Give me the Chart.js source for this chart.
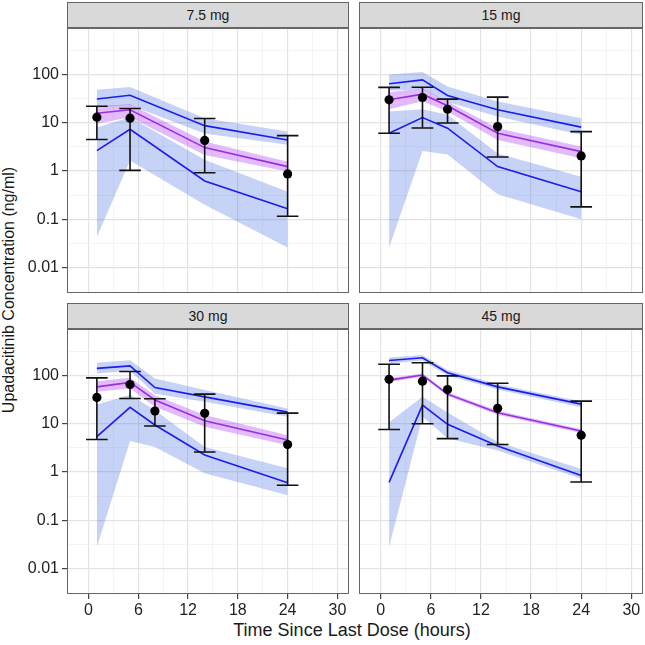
<!DOCTYPE html>
<html>
<head>
<meta charset="utf-8">
<script src="https://cdn.jsdelivr.net/npm/chart.js@4.4.1/dist/chart.umd.min.js"></script>
<style>
  html, body { margin: 0; padding: 0; background: #fff; }
  #page { position: relative; width: 645px; height: 645px; overflow: hidden;
          font-family: "Liberation Sans", Arial, Helvetica, sans-serif; }
  #page canvas { position: absolute; }
  .strip { position: absolute; box-sizing: border-box; background: #d9d9d9;
           border: 1px solid #666; color: #1a1a1a; font-size: 14px;
           text-align: center; line-height: 24px; }
  .axis-title { position: absolute; color: #1a1a1a; white-space: nowrap; text-align: center; }
</style>
</head>
<body>
<div id="page">
  <div class="axis-title" id="xTitle" style="left:152px; top:620px; width:400px; font-size:18px;">Time Since Last Dose (hours)</div>
  <div class="axis-title" id="yTitle" style="left:-191px; top:281px; width:400px; height:18px; line-height:18px; font-size:16px; transform:rotate(-90deg);">Upadacitinib Concentration (ng/ml)</div>
</div>
<script>
// facet labels
var doses = ['7.5 mg', '15 mg', '30 mg', '45 mg'];

// axis ticks
var xTicks = [0, 6, 12, 18, 24, 30];
var yTicks = [0.01, 0.1, 1, 10, 100];
var yTickLabels = ['0.01', '0.1', '1', '10', '100'];
var xLimits = [-2.6, 31.4];
var yLimits = [0.00296, 918];

// nominal times (hours) per dose
var obsTimes = [[1, 5, 14, 24], [1, 5, 8, 14, 24], [1, 5, 8, 14, 24], [1, 5, 8, 14, 24]];
var predTimes = [[1, 5, 14, 24], [1, 5, 8, 14, 24], [1, 5, 8, 14, 24], [1, 5, 8, 14, 24]];

// observed median with 5th / 95th percentiles
var obsMedian = [[13, 12.4, 4.3, 0.87], [29.8, 33.3, 19, 8.3, 2.05], [35, 65, 18.3, 16.4, 3.7], [83, 76, 51, 20.8, 5.8]];
var obsLow = [[4.5, 1.03, 0.92, 0.115], [6.05, 7.8, 9.9, 1.95, 0.18], [4.7, 33.4, 9, 2.6, 0.53], [7.6, 10, 4.9, 3.7, 0.62]];
var obsHigh = [[22, 19.7, 12.2, 5.4], [54, 54.5, 30.8, 33.9, 6.55], [89, 121, 32.9, 41, 16.6], [171, 183, 98, 69, 29.4]];

// predicted 95th percentile and its CI
var predUpper = [[31, 37, 8.7, 4.4], [64, 77, 36.6, 18.5, 8.1], [140, 158, 56, 36, 17.4], [204, 232, 114, 58, 25.5]];
var predUpperHi = [[48, 55, 12.4, 6.6], [100, 112, 56, 27.5, 12.4], [183, 207, 87, 50, 20.7], [235, 265, 130, 66, 29]];
var predUpperLo = [[21, 23, 6, 3.5], [46, 50, 27, 13.4, 5.6], [110, 125, 42, 28.5, 14], [178, 203, 100, 51, 22]];

// predicted median and its CI
var predMedian = [[15.7, 18.5, 3.05, 1.23], [29.8, 39, 22.4, 6.05, 2.52], [58, 72, 31, 11.5, 4.6], [80, 102, 41, 16.9, 7.05]];
var predMedianHi = [[22, 24, 4.1, 1.56], [43, 52, 27.5, 7.7, 3.2], [76, 89.5, 39, 15.1, 5.8], [88, 110, 45, 18.5, 7.7]];
var predMedianLo = [[9.5, 13, 2.15, 0.97], [19, 28, 17, 4.4, 1.83], [46, 54, 22.5, 8.7, 3.6], [73, 94, 37.5, 15.4, 6.4]];

// predicted 5th percentile and its CI
var predLower = [[2.64, 7.3, 0.62, 0.165], [6.05, 12.8, 7.7, 1.23, 0.37], [5.4, 21.8, 9.4, 2.25, 0.6], [0.61, 24.3, 9.7, 3.45, 0.85]];
var predLowerHi = [[8, 13, 1.7, 0.37], [17, 19, 14.6, 2.3, 0.76], [25, 40, 19, 3.3, 1.2], [10.7, 36, 17, 4.2, 1.15]];
var predLowerLo = [[0.043, 1.64, 0.2, 0.026], [0.026, 2.6, 2.2, 0.33, 0.1], [0.028, 4.4, 3.3, 0.94, 0.33], [0.028, 14, 5, 2.8, 0.72]];

var FONT = '"Liberation Sans", Arial, Helvetica, sans-serif';
var BLUE_FILL = 'rgba(65, 105, 225, 0.3)';
var PURPLE_FILL = 'rgba(160, 32, 240, 0.3)';
var BLUE_LINE = '#1c1cf0';
var PURPLE_LINE = '#9a2ee0';
var CAP_HALF = 1.3;

// panel placement: strip box and canvas box (left, top, width, height)
var layout = [
    { strip: [67, 2, 282, 26], canvas: [0, 28, 352, 268], left: true, bottom: false },
    { strip: [359, 2, 284, 26], canvas: [359, 28, 286, 268], left: false, bottom: false },
    { strip: [67, 303, 282, 26], canvas: [0, 329, 352, 295], left: true, bottom: true },
    { strip: [359, 303, 284, 26], canvas: [359, 329, 286, 295], left: false, bottom: true }
];

function isWhole(v) {
    return Math.abs(v - Math.round(v)) < 1e-6;
}

// scales add half-label padding at their ends; the panels are placed by hand, so drop it
function noPadding(scale) {
    scale.paddingTop = 0;
    scale.paddingBottom = 0;
    scale.paddingLeft = 0;
    scale.paddingRight = 0;
}

var framePlugin = {
    id: 'frame',
    afterDraw: function (chart) {
        var a = chart.chartArea, ctx = chart.ctx;
        ctx.save();
        ctx.strokeStyle = '#666';
        ctx.lineWidth = 1;
        ctx.strokeRect(a.left + 0.5, a.top + 0.5, a.right - a.left - 1, a.bottom - a.top - 1);
        ctx.restore();
    }
};

function xy(times, values) {
    return values.map(function (v, k) { return { x: times[k], y: v }; });
}

function lineSet(data, color, order) {
    return { data: data, borderColor: color, borderWidth: 1.6, pointRadius: 0, fill: false, order: order };
}

function buildDatasets(i) {
    var t = predTimes[i], to = obsTimes[i];
    var stems = [], caps = [];

    to.forEach(function (x, k) {
        stems.push({ x: x, y: obsLow[i][k] }, { x: x, y: obsHigh[i][k] }, { x: x, y: null });
        caps.push({ x: x - CAP_HALF, y: obsHigh[i][k] }, { x: x + CAP_HALF, y: obsHigh[i][k] }, { x: x, y: null });
        caps.push({ x: x - CAP_HALF, y: obsLow[i][k] }, { x: x + CAP_HALF, y: obsLow[i][k] }, { x: x, y: null });
    });

    return [
        { data: xy(t, predUpperHi[i]), borderWidth: 0, pointRadius: 0, fill: false, order: 9 },
        { data: xy(t, predUpperLo[i]), borderWidth: 0, pointRadius: 0, fill: '-1', backgroundColor: BLUE_FILL, order: 9 },
        { data: xy(t, predLowerHi[i]), borderWidth: 0, pointRadius: 0, fill: false, order: 8 },
        { data: xy(t, predLowerLo[i]), borderWidth: 0, pointRadius: 0, fill: '-1', backgroundColor: BLUE_FILL, order: 8 },
        { data: xy(t, predMedianHi[i]), borderWidth: 0, pointRadius: 0, fill: false, order: 7 },
        { data: xy(t, predMedianLo[i]), borderWidth: 0, pointRadius: 0, fill: '-1', backgroundColor: PURPLE_FILL, order: 7 },
        lineSet(xy(t, predUpper[i]), BLUE_LINE, 4),
        lineSet(xy(t, predLower[i]), BLUE_LINE, 4),
        lineSet(xy(t, predMedian[i]), PURPLE_LINE, 3),
        { data: stems, borderColor: '#111', borderWidth: 1.6, pointRadius: 0, spanGaps: false, fill: false, order: 2 },
        { data: caps, borderColor: '#111', borderWidth: 1.6, pointRadius: 0, spanGaps: false, fill: false, order: 2 },
        { data: xy(to, obsMedian[i]), showLine: false, pointRadius: 4.6, pointBackgroundColor: '#000',
          pointBorderWidth: 0, borderColor: '#000', order: 1 }
    ];
}

function makePanel(i) {
    var L = layout[i], page = document.getElementById('page');

    var strip = document.createElement('div');
    strip.className = 'strip';
    strip.style.left = L.strip[0] + 'px';
    strip.style.top = L.strip[1] + 'px';
    strip.style.width = L.strip[2] + 'px';
    strip.style.height = L.strip[3] + 'px';
    strip.textContent = doses[i];
    page.appendChild(strip);

    var canvas = document.createElement('canvas');
    canvas.width = L.canvas[2];
    canvas.height = L.canvas[3];
    canvas.style.left = L.canvas[0] + 'px';
    canvas.style.top = L.canvas[1] + 'px';
    canvas.style.width = L.canvas[2] + 'px';
    canvas.style.height = L.canvas[3] + 'px';
    page.appendChild(canvas);

    var xGrid = [];
    xTicks.forEach(function (v, k) {
        xGrid.push(v);
        if (k < xTicks.length - 1) {
            xGrid.push((v + xTicks[k + 1]) / 2);
        }
    });
    var yGrid = [];
    yTicks.forEach(function (v) {
        yGrid.push(v, v * Math.sqrt(10));
    });

    new Chart(canvas.getContext('2d'), {
        type: 'line',
        data: { datasets: buildDatasets(i) },
        options: {
            responsive: false,
            maintainAspectRatio: false,
            animation: false,
            events: [],
            layout: { autoPadding: false, padding: { left: 0, top: 0, right: L.left ? 3 : 2, bottom: 0 } },
            plugins: { legend: { display: false }, tooltip: { enabled: false } },
            scales: {
                x: {
                    type: 'linear',
                    min: xLimits[0],
                    max: xLimits[1],
                    afterBuildTicks: function (scale) {
                        scale.ticks = xGrid.map(function (v) { return { value: v }; });
                    },
                    afterFit: function (scale) {
                        scale.height = L.bottom ? 30 : 3;
                        noPadding(scale);
                    },
                    border: { display: false },
                    grid: {
                        drawTicks: L.bottom,
                        tickLength: 5,
                        color: function (ctx) { return xTicks.indexOf(ctx.tick.value) >= 0 ? '#e3e3e3' : '#efefef'; },
                        lineWidth: function (ctx) { return xTicks.indexOf(ctx.tick.value) >= 0 ? 1.2 : 0.7; },
                        tickColor: function (ctx) { return xTicks.indexOf(ctx.tick.value) >= 0 ? '#444' : 'rgba(0,0,0,0)'; },
                        tickWidth: 1.2
                    },
                    ticks: {
                        display: L.bottom,
                        autoSkip: false,
                        maxRotation: 0,
                        padding: 2,
                        color: '#222',
                        font: { family: FONT, size: 16 },
                        callback: function (value) { return xTicks.indexOf(value) >= 0 ? String(value) : ''; }
                    }
                },
                y: {
                    type: 'logarithmic',
                    min: yLimits[0],
                    max: yLimits[1],
                    afterBuildTicks: function (scale) {
                        scale.ticks = yGrid.map(function (v) { return { value: v }; });
                    },
                    afterFit: function (scale) {
                        scale.width = L.left ? 67 : 0;
                        noPadding(scale);
                    },
                    border: { display: false },
                    grid: {
                        drawTicks: L.left,
                        tickLength: 5,
                        color: function (ctx) { return isWhole(Math.log10(ctx.tick.value)) ? '#e3e3e3' : '#efefef'; },
                        lineWidth: function (ctx) { return isWhole(Math.log10(ctx.tick.value)) ? 1.2 : 0.7; },
                        tickColor: function (ctx) { return isWhole(Math.log10(ctx.tick.value)) ? '#444' : 'rgba(0,0,0,0)'; },
                        tickWidth: 1.2
                    },
                    ticks: {
                        display: L.left,
                        autoSkip: false,
                        padding: 3,
                        color: '#222',
                        font: { family: FONT, size: 16 },
                        callback: function (value) {
                            for (var k = 0; k < yTicks.length; k++) {
                                if (Math.abs(value - yTicks[k]) < yTicks[k] * 1e-6) {
                                    return yTickLabels[k];
                                }
                            }
                            return '';
                        }
                    }
                }
            }
        },
        plugins: [framePlugin]
    });
}

for (var i = 0; i < doses.length; i++) {
    makePanel(i);
}
</script>
</body>
</html>
